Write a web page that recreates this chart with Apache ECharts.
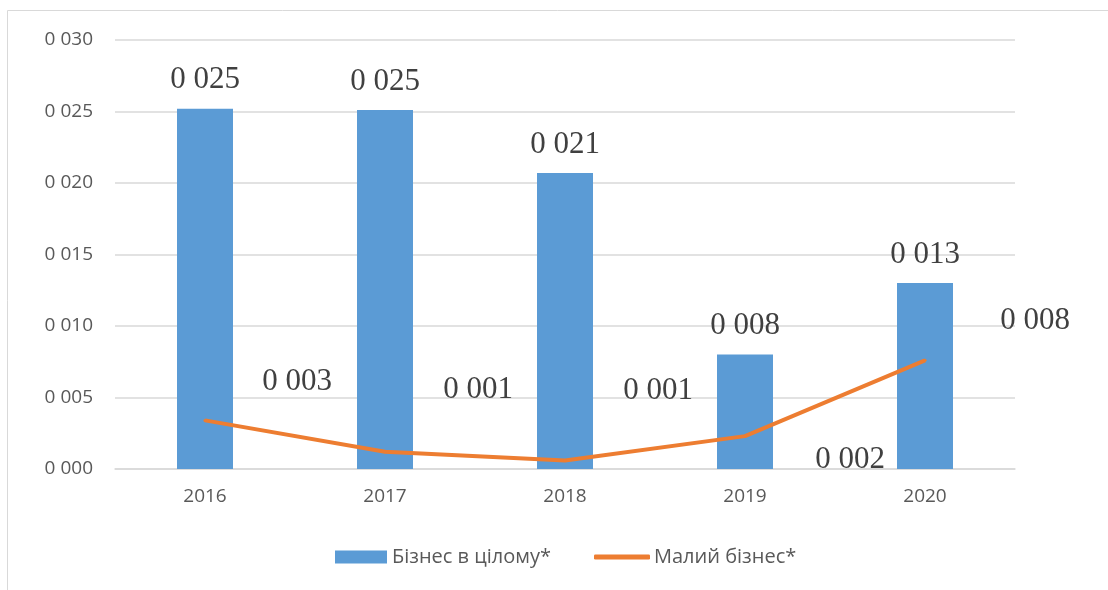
<!DOCTYPE html>
<html>
<head>
<meta charset="utf-8">
<script src="https://cdn.jsdelivr.net/npm/echarts@6/dist/echarts.min.js"></script>
<style>
  html, body { margin: 0; padding: 0; background: #fff; }
  #chart { width: 1108px; height: 590px; }
</style>
</head>
<body>
<div id="chart"></div>
<script>
  // data
  const years = ['2016', '2017', '2018', '2019', '2020'];
  const businessTotal = [0.0252, 0.0251, 0.0207, 0.0080, 0.0130];
  const smallBusiness = [0.0034, 0.0012, 0.0006, 0.0023, 0.0076];
  const yTicks = { min: 0, max: 0.03, step: 0.005 };

  // where the line labels sit relative to their points (as in the original)
  const lineLabelOffsets = [[92, -39], [93, -62], [93, -70], [105, 24], [110, -39]];

  const fmt = v => v.toFixed(3).replace('.', ' ');
  const labelFont = 'Liberation Serif, DejaVu Serif, serif';

  const chart = echarts.init(document.getElementById('chart'));
  chart.setOption({
    animation: false,
    textStyle: { fontFamily: 'Open Sans, Noto Sans, sans-serif' },
    graphic: [
      { type: 'line', shape: { x1: 7.5, y1: 10.5, x2: 1108, y2: 10.5 }, style: { stroke: '#d9d9d9', lineWidth: 1 } },
      { type: 'line', shape: { x1: 7.5, y1: 10.5, x2: 7.5, y2: 590 }, style: { stroke: '#d9d9d9', lineWidth: 1 } }
    ],
    grid: { left: 115, right: 93, top: 40, bottom: 121 },
    legend: [
      {
        left: 330,
        top: 542,
        itemWidth: 52,
        itemHeight: 13,
        textStyle: { fontSize: 20, color: '#595959', padding: [0, 0, 0, 0] },
        data: [{ name: 'Бізнес в цілому*', icon: 'rect' }]
      },
      {
        left: 589,
        top: 542,
        itemWidth: 56,
        itemHeight: 5,
        textStyle: { fontSize: 20, color: '#595959', padding: [0, 0, 0, -1] },
        data: [{ name: 'Малий бізнес*', icon: 'roundRect', itemStyle: { color: '#ed7d31' } }]
      }
    ],
    xAxis: {
      type: 'category',
      data: years,
      axisTick: { show: false },
      axisLine: { lineStyle: { color: '#d9d9d9', width: 1.5 } },
      axisLabel: { color: '#595959', fontSize: 19, margin: 18 }
    },
    yAxis: {
      type: 'value',
      min: yTicks.min,
      max: yTicks.max,
      interval: yTicks.step,
      axisLine: { show: false },
      axisTick: { show: false },
      splitLine: { lineStyle: { color: '#d9d9d9', width: 1.5 } },
      axisLabel: { color: '#595959', fontSize: 19, margin: 22, formatter: fmt }
    },
    series: [
      {
        name: 'Бізнес в цілому*',
        type: 'bar',
        barWidth: 56,
        data: businessTotal,
        itemStyle: { color: '#5b9bd5' },
        label: {
          show: true,
          position: 'top',
          distance: 13,
          fontFamily: labelFont,
          fontSize: 31,
          color: '#404040',
          formatter: p => fmt(p.value)
        }
      },
      {
        name: 'Малий бізнес*',
        type: 'line',
        symbol: 'circle',
        symbolSize: 3,
        showSymbol: true,
        data: smallBusiness.map((v, i) => ({
          value: v,
          label: { offset: lineLabelOffsets[i] }
        })),
        itemStyle: { color: '#ed7d31' },
        lineStyle: { color: '#ed7d31', width: 4 },
        label: {
          show: true,
          position: 'inside',
          fontFamily: labelFont,
          fontSize: 31,
          color: '#404040',
          formatter: p => fmt(p.value)
        }
      }
    ]
  });
</script>
</body>
</html>
